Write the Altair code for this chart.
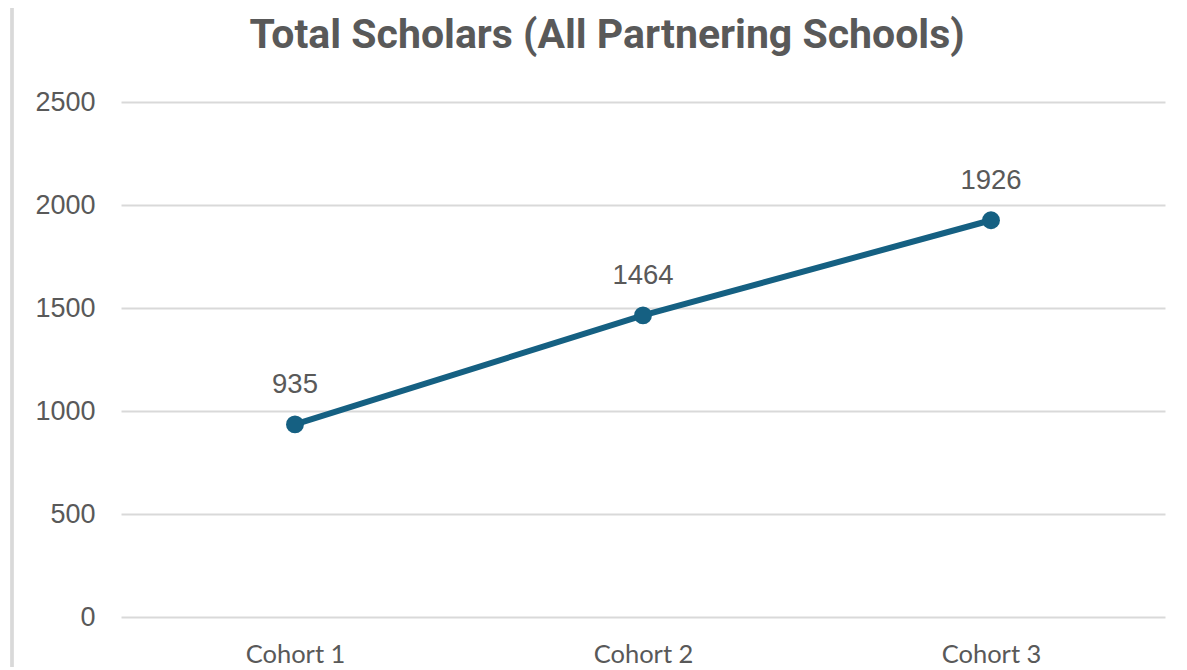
import altair as alt
import pandas as pd

categories = ["Cohort 1", "Cohort 2", "Cohort 3"]
values = [935, 1464, 1926]
y_ticks = [0, 500, 1000, 1500, 2000, 2500]
title_text = ["Total Scholars (All Partnering Schools)"]

df = pd.DataFrame({"cohort": categories, "scholars": values})
df_title = pd.DataFrame({"t": title_text})

LINE = "#156082"
GRAY = "#595959"

x = alt.X("cohort:N", sort=categories, title=None,
          scale=alt.Scale(paddingInner=0, paddingOuter=0),
          axis=alt.Axis(labelAngle=0, labelFont="Lato", labelFontSize=25.5,
                        labelColor=GRAY, ticks=False, domain=False, labelPadding=25))
y = alt.Y("scholars:Q", title=None,
          scale=alt.Scale(domain=[0, 2500], nice=False),
          axis=alt.Axis(values=y_ticks, format="d", labelFont="Liberation Sans", labelFontSize=27,
                        labelColor=GRAY, ticks=False, domain=False, labelPadding=26,
                        gridColor="#d9d9d9", gridWidth=2))

base = alt.Chart(df)
line = base.mark_line(color=LINE, strokeWidth=6).encode(x=x, y=y)
pts = base.mark_point(filled=True, color=LINE, size=320, opacity=1).encode(x=x, y=y)
labels = base.mark_text(font="Liberation Sans", fontSize=27.5, color=GRAY, dy=-39).encode(
    x=x, y=y, text=alt.Text("scholars:Q"))
border = alt.Chart(df).mark_rule(color="#d9d9d9", strokeWidth=3, clip=False).encode(
    x=alt.value(-109), y=alt.value(-100), y2=alt.value(580))
title = alt.Chart(df_title).mark_text(
    font="Roboto", fontSize=41, fontWeight="bold", color=GRAY,
    align="center", baseline="alphabetic", clip=False).encode(
    x=alt.value(486), y=alt.value(-54), text="t:N")

chart = alt.layer(border, line, pts, labels, title).properties(
    width=1044, height=515,
    autosize=alt.AutoSizeParams(type="none"),
    padding={"left": 113, "top": 94, "right": 14, "bottom": 50},
).configure_view(stroke=None)

chart.save("out.html", embed_options={"renderer": "svg", "actions": False})
